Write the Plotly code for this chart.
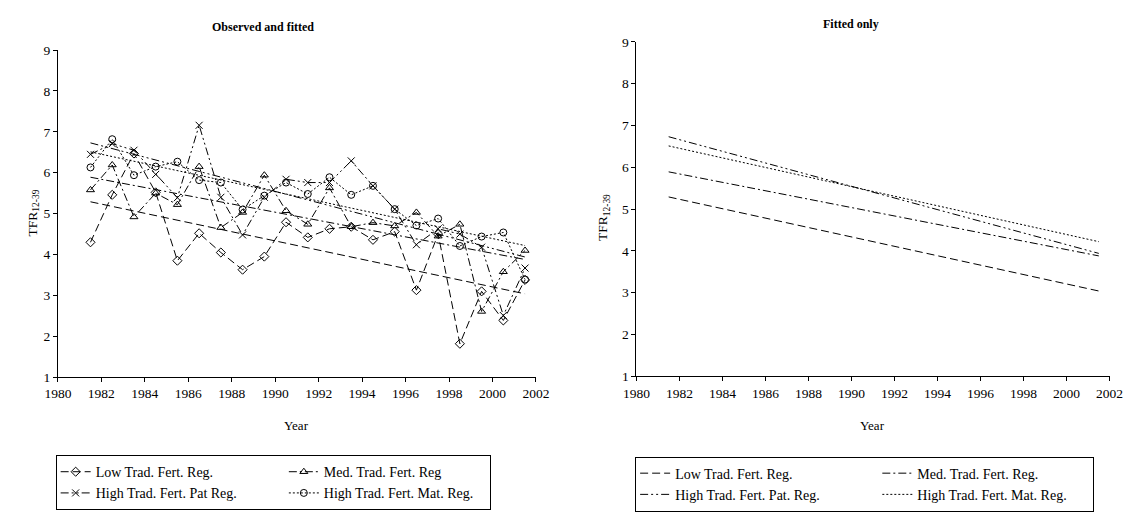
import plotly.graph_objects as go

# ---------------- data ----------------
years_obs = [1981.5, 1982.5, 1983.5, 1984.5, 1985.5, 1986.5, 1987.5, 1988.5, 1989.5, 1990.5,
             1991.5, 1992.5, 1993.5, 1994.5, 1995.5, 1996.5, 1997.5, 1998.5, 1999.5, 2000.5, 2001.5]

low_obs = [4.30, 5.46, 6.47, 5.52, 3.85, 4.52, 4.05, 3.63, 3.95, 4.79,
           4.42, 4.63, 4.68, 4.36, 4.56, 3.13, 4.50, 1.82, 3.10, 2.39, 3.38]
med_obs = [5.58, 6.19, 4.92, 5.50, 5.22, 6.15, 4.66, 5.03, 5.94, 5.07,
           4.74, 5.63, 4.68, 4.78, 4.70, 5.03, 4.45, 4.74, 2.61, 3.58, 4.10]
pat_obs = [6.45, 6.71, 6.55, 5.96, 5.39, 7.16, 5.40, 4.48, 5.40, 5.84,
           5.76, 5.76, 6.29, 5.68, 5.11, 4.24, 4.63, 4.50, 4.18, 2.51, 3.67]
mat_obs = [6.13, 6.82, 5.94, 6.15, 6.27, 5.82, 5.76, 5.10, 5.44, 5.76,
           5.48, 5.89, 5.46, 5.68, 5.11, 4.71, 4.88, 4.21, 4.44, 4.54, 3.39]

# fitted trend lines: values at first and last year
years_fit = [1981.5, 2001.5]
low_fit = [5.29, 3.04]
med_fit = [5.89, 3.88]
pat_fit = [6.73, 3.94]
mat_fit = [6.51, 4.22]

names = ["Low Trad. Fert. Reg.", "Med. Trad. Fert. Reg",
         "High Trad. Fert. Pat Reg.", "High Trad. Fert. Mat. Reg."]
names_fit = ["Low Trad. Fert. Reg.", "Med. Trad. Fert. Reg.",
             "High Trad. Fert. Pat. Reg.", "High Trad. Fert. Mat. Reg."]

x_ticks = list(range(1980, 2003, 2))
y_ticks = list(range(1, 10))

# ---------------- styles ----------------
FONT = "Liberation Serif"
dashes = ["8px,4px", "8px,3px,2px,3px", "8px,3px,2px,3px,2px,3px", "2px,2px"]
symbols = ["diamond-open", "triangle-up-open", "x-thin-open", "circle-open"]
groups = ["a", "b", "a", "b"]
# trailing non-breaking spaces set the legend column widths
col_pad_left = ["&nbsp;" * 12 if g == "a" else "&nbsp;" * 3 for g in groups]
col_pad_right = ["&nbsp;" * 15 if g == "a" else "&nbsp;" * 6 for g in groups]

obs = [low_obs, med_obs, pat_obs, mat_obs]
fit = [low_fit, med_fit, pat_fit, mat_fit]

fig = go.Figure()

for i in range(4):
    fig.add_trace(go.Scatter(
        x=years_obs, y=obs[i], mode="lines+markers", name=names[i] + col_pad_left[i],
        line=dict(color="black", width=1, dash=dashes[i]),
        marker=dict(symbol=symbols[i], size=7, color="black",
                    line=dict(color="black", width=1)),
        legendgroup=groups[i], legend="legend",
        xaxis="x", yaxis="y"))
for i in range(4):
    fig.add_trace(go.Scatter(
        x=years_fit, y=fit[i], mode="lines", showlegend=False,
        line=dict(color="black", width=1, dash=dashes[i]),
        xaxis="x", yaxis="y", hoverinfo="skip"))
for i in range(4):
    fig.add_trace(go.Scatter(
        x=years_fit, y=fit[i], mode="lines", name=names_fit[i] + col_pad_right[i],
        line=dict(color="black", width=1, dash=dashes[i]),
        legendgroup="f" + groups[i], legend="legend2",
        xaxis="x2", yaxis="y2"))

axis_common = dict(showline=True, linecolor="black", linewidth=1, showgrid=False,
                   zeroline=False, ticks="outside", ticklen=4, tickcolor="black",
                   tickfont=dict(family=FONT, size=13.5, color="black"))

fig.update_layout(
    width=1145, height=512,
    margin=dict(l=0, r=0, t=0, b=0),
    paper_bgcolor="white", plot_bgcolor="white",
    font=dict(family=FONT, color="black"),
    xaxis=dict(domain=[45 / 1145, 535 / 1145], range=[1980, 2002], tickvals=x_ticks,
               tickformat="d", anchor="y", **axis_common),
    yaxis=dict(domain=[1 - 383 / 512, 1 - 44.5 / 512], range=[1, 9], tickvals=y_ticks,
               anchor="x", **axis_common),
    xaxis2=dict(domain=[638 / 1145, 1123 / 1145], range=[1980, 2002], tickvals=x_ticks,
                tickformat="d", anchor="y2", **axis_common),
    yaxis2=dict(domain=[1 - 382 / 512, 1 - 36 / 512], range=[1, 9], tickvals=y_ticks,
                anchor="x2", **axis_common),
    legend=dict(x=42.7 / 1145, y=1 - 463.5 / 512, xanchor="left", yanchor="top",
                orientation="h", traceorder="grouped", bordercolor="black", borderwidth=1,
                bgcolor="white", tracegroupgap=0,
                font=dict(family=FONT, size=14, color="black")),
    legend2=dict(x=636.7 / 1145, y=1 - 465 / 512, xanchor="left", yanchor="top",
                 orientation="h", traceorder="grouped", bordercolor="black", borderwidth=1,
                 bgcolor="white", tracegroupgap=0,
                 font=dict(family=FONT, size=14, color="black")),
    showlegend=True,
)

ann = [
    dict(text="<b>Observed and fitted</b>", x=255 / 1145, y=1 - 21 / 512, size=12, angle=0),
    dict(text="<b>Fitted only</b>", x=858 / 1145, y=1 - 18 / 512, size=12, angle=0),
    dict(text="TFR<sub>12-39</sub>", x=20 / 1145, y=1 - 213 / 512, size=13.5, angle=-90),
    dict(text="TFR<sub>12-39</sub>", x=605 / 1145, y=1 - 218 / 512, size=13.5, angle=-90),
    dict(text="Year", x=290 / 1145, y=1 - 433 / 512, size=13, angle=0),
    dict(text="Year", x=880 / 1145, y=1 - 433 / 512, size=13, angle=0),
]
for a in ann:
    fig.add_annotation(text=a["text"], x=a["x"], y=a["y"], xref="paper", yref="paper",
                       xanchor="center", yanchor="middle", showarrow=False,
                       textangle=a["angle"],
                       font=dict(family=FONT, size=a["size"], color="black"))

fig.write_html("out.html")
